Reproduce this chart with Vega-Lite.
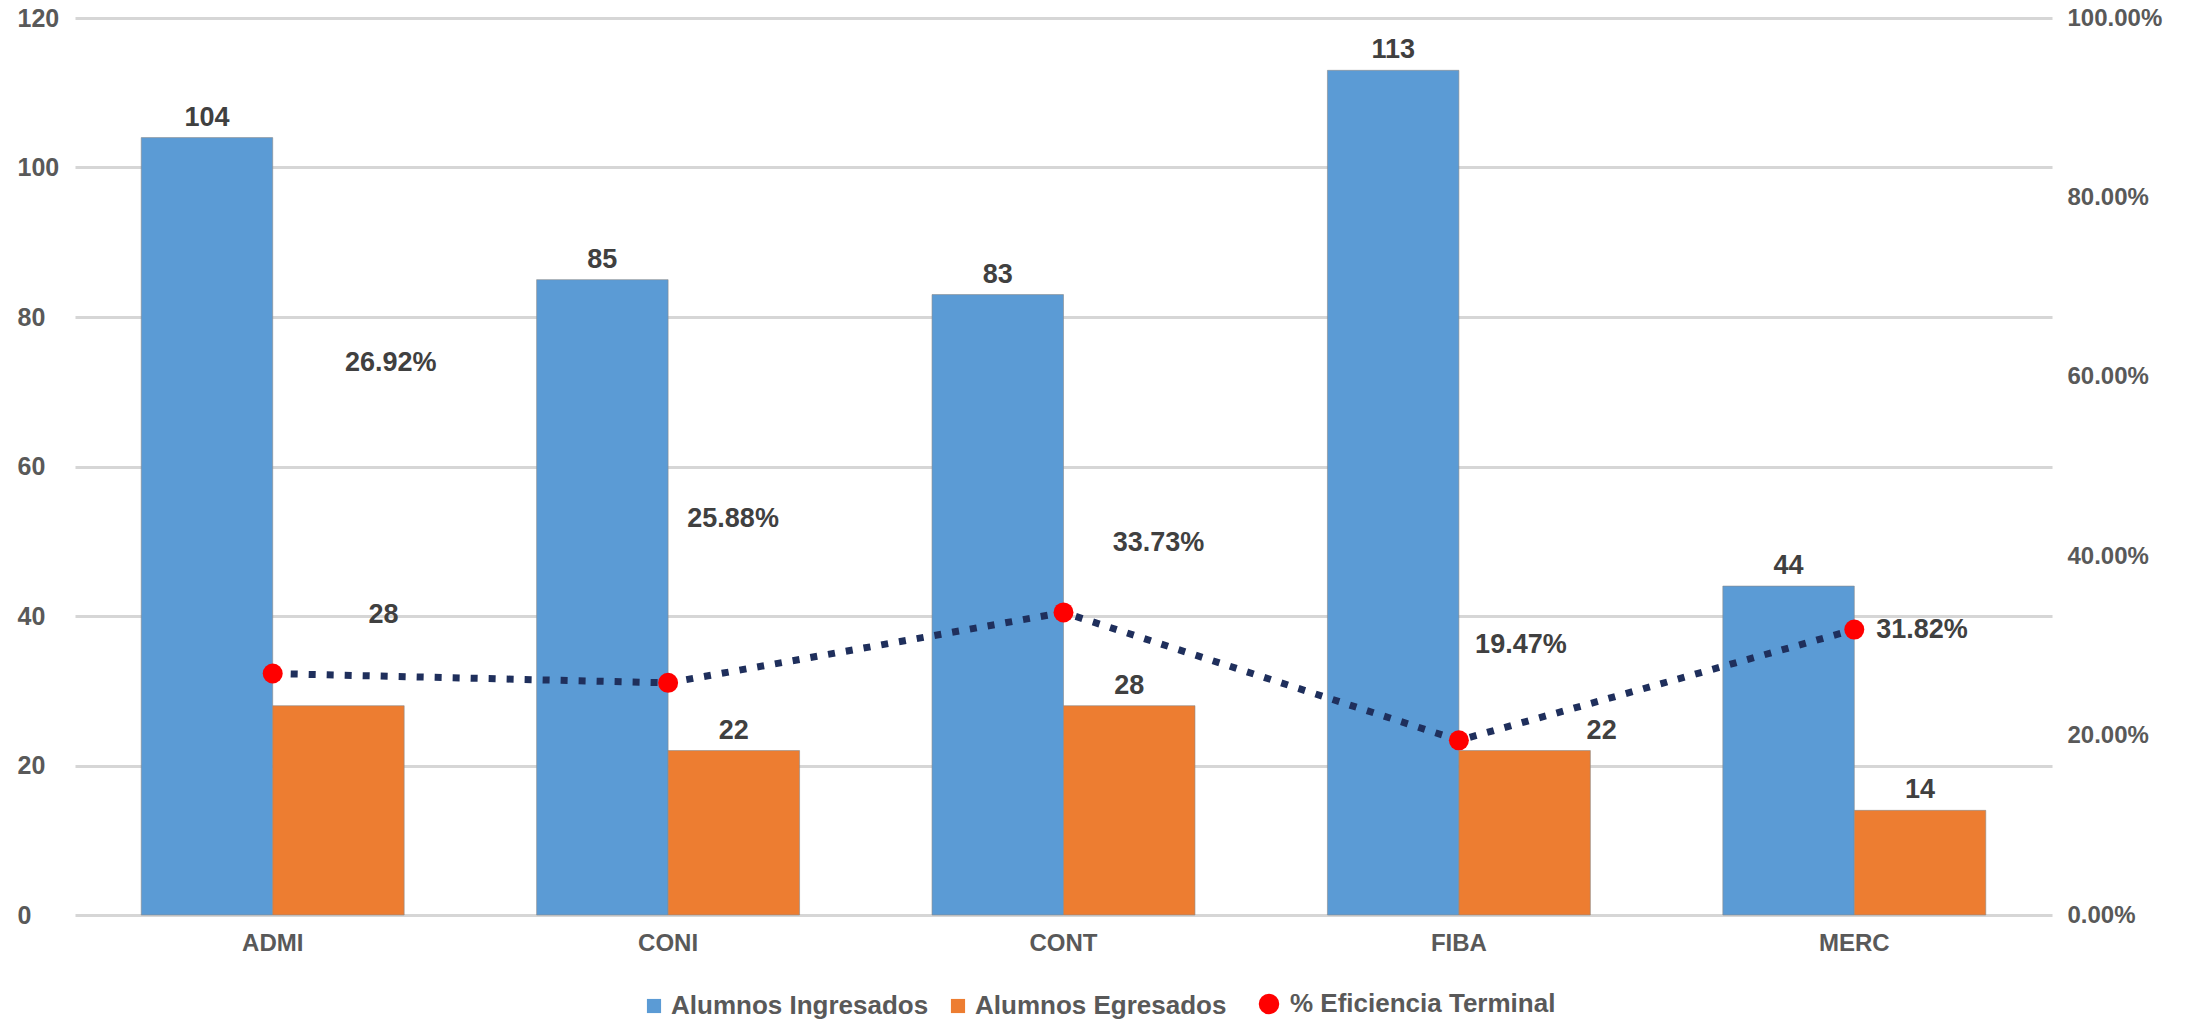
{
  "$schema": "https://vega.github.io/schema/vega-lite/v6.json",
  "width": 1977,
  "height": 897,
  "autosize": {"type": "none"},
  "padding": {"left": 75, "top": 18, "right": 143, "bottom": 104},
  "background": "white",
  "config": {
    "view": {"stroke": null},
    "font": "Liberation Sans",
    "axis": {"labelFont": "Liberation Sans", "labelFontWeight": "bold", "labelColor": "#595959", "labelFontSize": 25, "domain": false, "ticks": false, "tickSize": 0, "title": null},
    "legend": {"labelFont": "Liberation Sans", "labelFontWeight": "bold", "labelColor": "#595959", "labelFontSize": 26, "labelLimit": 0}
  },
  "datasets": {
    "barras": [
      {"carrera": "ADMI", "serie": "Alumnos Ingresados", "alumnos": 104},
      {"carrera": "ADMI", "serie": "Alumnos Egresados", "alumnos": 28},
      {"carrera": "CONI", "serie": "Alumnos Ingresados", "alumnos": 85},
      {"carrera": "CONI", "serie": "Alumnos Egresados", "alumnos": 22},
      {"carrera": "CONT", "serie": "Alumnos Ingresados", "alumnos": 83},
      {"carrera": "CONT", "serie": "Alumnos Egresados", "alumnos": 28},
      {"carrera": "FIBA", "serie": "Alumnos Ingresados", "alumnos": 113},
      {"carrera": "FIBA", "serie": "Alumnos Egresados", "alumnos": 22},
      {"carrera": "MERC", "serie": "Alumnos Ingresados", "alumnos": 44},
      {"carrera": "MERC", "serie": "Alumnos Egresados", "alumnos": 14}
    ],
    "eficiencia": [
      {"carrera": "ADMI", "pct": 0.2692},
      {"carrera": "CONI", "pct": 0.2588},
      {"carrera": "CONT", "pct": 0.3373},
      {"carrera": "FIBA", "pct": 0.1947},
      {"carrera": "MERC", "pct": 0.3182}
    ]
  },
  "layer": [
    {
      "data": {"name": "barras"},
      "encoding": {
        "x": {"field": "carrera", "type": "nominal", "sort": ["ADMI", "CONI", "CONT", "FIBA", "MERC"],
              "scale": {"paddingInner": 0.335, "paddingOuter": 0.1675},
              "axis": {"labelAngle": 0, "labelPadding": 16, "labelFontSize": 24, "grid": false}},
        "xOffset": {"field": "serie", "type": "nominal", "sort": ["Alumnos Ingresados", "Alumnos Egresados"]},
        "y": {"field": "alumnos", "type": "quantitative",
              "scale": {"domain": [0, 120]},
              "axis": {"orient": "left", "values": [0, 20, 40, 60, 80, 100, 120], "grid": true, "gridColor": "#D6D6D6", "gridWidth": 3,
                       "labelAlign": "left", "labelPadding": 58, "labelFontSize": 25}}
      },
      "layer": [
        {
          "mark": {"type": "bar", "stroke": "#8a8a8a", "strokeWidth": 1, "strokeOpacity": 0.6},
          "encoding": {
            "color": {"field": "serie", "type": "nominal",
                      "scale": {"domain": ["Alumnos Ingresados", "Alumnos Egresados"], "range": ["#5B9BD5", "#ED7D31"]},
                      "legend": {"orient": "none", "legendX": 566, "legendY": 975, "direction": "horizontal", "title": null,
                                 "symbolType": "square", "symbolSize": 200, "symbolStrokeWidth": 0,
                                 "columnPadding": 16, "labelOffset": 4, "padding": 0}}
          }
        },
        {
          "transform": [{"filter": "!(datum.serie === 'Alumnos Egresados' && (datum.carrera === 'ADMI' || datum.carrera === 'FIBA'))"}],
          "mark": {"type": "text", "baseline": "bottom", "dy": -6, "fontSize": 27, "fontWeight": "bold", "color": "#404040"},
          "encoding": {"text": {"field": "alumnos", "type": "quantitative"}}
        },
        {
          "transform": [{"filter": "datum.serie === 'Alumnos Egresados' && datum.carrera === 'ADMI'"}],
          "mark": {"type": "text", "baseline": "middle", "dx": 45, "dy": -91, "fontSize": 27, "fontWeight": "bold", "color": "#404040"},
          "encoding": {"text": {"field": "alumnos", "type": "quantitative"}}
        },
        {
          "transform": [{"filter": "datum.serie === 'Alumnos Egresados' && datum.carrera === 'FIBA'"}],
          "mark": {"type": "text", "baseline": "bottom", "dx": 77, "dy": -6, "fontSize": 27, "fontWeight": "bold", "color": "#404040"},
          "encoding": {"text": {"field": "alumnos", "type": "quantitative"}}
        }
      ]
    },
    {
      "data": {"name": "eficiencia"},
      "encoding": {
        "x": {"field": "carrera", "type": "nominal", "sort": ["ADMI", "CONI", "CONT", "FIBA", "MERC"]},
        "y": {"field": "pct", "type": "quantitative",
              "scale": {"domain": [0, 1]},
              "axis": {"orient": "right", "values": [0, 0.2, 0.4, 0.6, 0.8, 1], "format": ".2%", "grid": false, "labelPadding": 15, "labelFontSize": 24}}
      },
      "layer": [
        {
          "mark": {"type": "line", "color": "#1F2F5C", "strokeWidth": 7, "strokeDash": [7, 11], "strokeCap": "butt"}
        },
        {
          "mark": {"type": "point", "filled": true, "shape": "circle", "size": 400, "opacity": 1, "strokeWidth": 0},
          "encoding": {"fill": {"datum": "% Eficiencia Terminal", "type": "nominal",
                                "scale": {"domain": ["% Eficiencia Terminal"], "range": ["#FF0000"]},
                                "legend": {"orient": "none", "legendX": 1181, "legendY": 973, "direction": "horizontal", "title": null,
                                           "symbolType": "circle", "symbolSize": 420, "symbolStrokeWidth": 0,
                                           "labelOffset": 8, "padding": 0}}}
        },
        {
          "transform": [{"filter": "datum.carrera === 'ADMI'"}],
          "mark": {"type": "text", "align": "center", "baseline": "middle", "dx": 118, "dy": -311, "fontSize": 27, "fontWeight": "bold", "color": "#404040"},
          "encoding": {"text": {"field": "pct", "type": "quantitative", "format": ".2%"}}
        },
        {
          "transform": [{"filter": "datum.carrera === 'CONI'"}],
          "mark": {"type": "text", "align": "center", "baseline": "middle", "dx": 65, "dy": -164, "fontSize": 27, "fontWeight": "bold", "color": "#404040"},
          "encoding": {"text": {"field": "pct", "type": "quantitative", "format": ".2%"}}
        },
        {
          "transform": [{"filter": "datum.carrera === 'CONT'"}],
          "mark": {"type": "text", "align": "center", "baseline": "middle", "dx": 95, "dy": -69, "fontSize": 27, "fontWeight": "bold", "color": "#404040"},
          "encoding": {"text": {"field": "pct", "type": "quantitative", "format": ".2%"}}
        },
        {
          "transform": [{"filter": "datum.carrera === 'FIBA'"}],
          "mark": {"type": "text", "align": "center", "baseline": "middle", "dx": 62, "dy": -95, "fontSize": 27, "fontWeight": "bold", "color": "#404040"},
          "encoding": {"text": {"field": "pct", "type": "quantitative", "format": ".2%"}}
        },
        {
          "transform": [{"filter": "datum.carrera === 'MERC'"}],
          "mark": {"type": "text", "align": "left", "baseline": "middle", "dx": 22, "dy": 0, "fontSize": 27, "fontWeight": "bold", "color": "#404040"},
          "encoding": {"text": {"field": "pct", "type": "quantitative", "format": ".2%"}}
        }
      ]
    }
  ],
  "resolve": {"scale": {"y": "independent"}}
}
